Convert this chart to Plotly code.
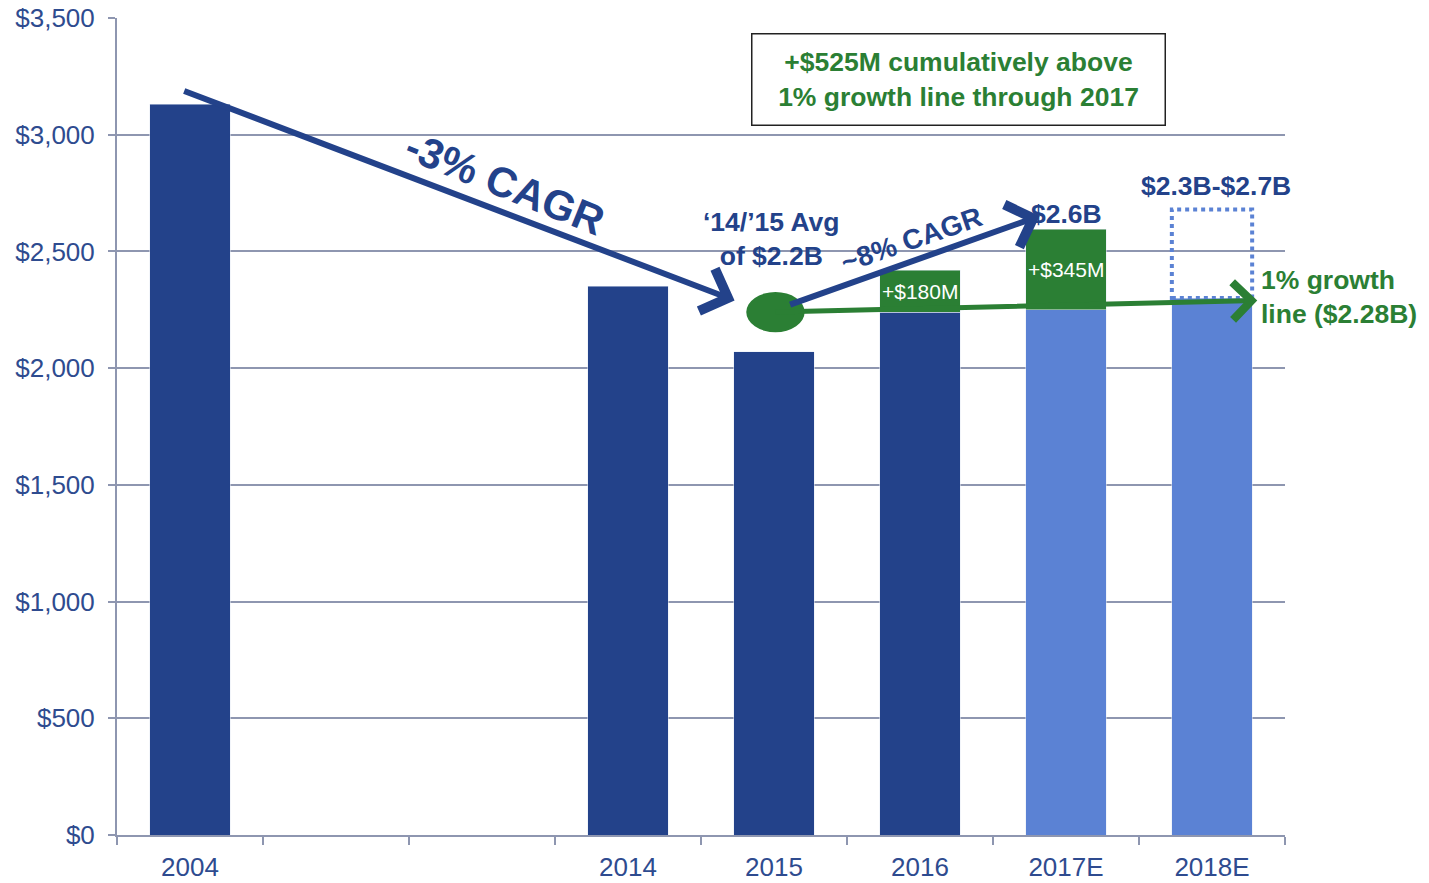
import plotly.graph_objects as go

# ---- data ----
categories = ["2004", " ", "  ", "2014", "2015", "2016", "2017E", "2018E"]
actual_base = [3130, None, None, 2350, 2070, 2240, None, None]      # dark blue
estimate_base = [None, None, None, None, None, None, 2250, 2300]     # light blue
above_growth = [None, None, None, None, None, 180, 345, None]        # green increments
above_labels = ["", "", "", "", "", "+$180M", "+$345M", ""]
range_2018 = (2300, 2680)  # $2.3B-$2.7B dotted box
avg_14_15 = 2240
y_ticks = [0, 500, 1000, 1500, 2000, 2500, 3000, 3500]
y_tick_labels = ["$0", "$500", "$1,000", "$1,500", "$2,000", "$2,500", "$3,000", "$3,500"]

DARK = "#23428A"
LIGHT = "#5B82D4"
GREEN = "#2B7F34"
GRID = "#8E96B0"
TXT = "#2E4B8F"
FONT = "Liberation Sans, Arial, sans-serif"
BAR_W = 0.55
BIG = 26.5

fig = go.Figure()
fig.add_trace(go.Bar(x=categories, y=actual_base, marker_color=DARK, width=BAR_W, hoverinfo="skip"))
fig.add_trace(go.Bar(x=categories, y=estimate_base, marker_color=LIGHT, width=BAR_W, hoverinfo="skip"))
fig.add_trace(go.Bar(x=categories, y=above_growth, marker_color=GREEN, width=BAR_W, hoverinfo="skip"))

ann = []
# labels inside green segments
for i, (b1, b2, inc, lab) in enumerate(zip(actual_base, estimate_base, above_growth, above_labels)):
    if inc:
        base = b1 if b1 else b2
        ann.append(dict(x=i, y=base + inc * 0.5, text=lab, showarrow=False,
                        font=dict(family=FONT, size=21, color="white")))

# dotted range box for 2018E
i18 = categories.index("2018E")
fig.add_shape(type="rect", xref="x", yref="y", x0=i18 - BAR_W / 2, x1=i18 + BAR_W / 2,
              y0=range_2018[0], y1=range_2018[1],
              line=dict(color=LIGHT, width=4, dash="dot"), fillcolor="rgba(0,0,0,0)", layer="above")

# green ellipse at 14/15 average
i15 = categories.index("2015")
fig.add_shape(type="circle", xref="x", yref="y", x0=i15 - 0.19, x1=i15 + 0.21,
              y0=avg_14_15 - 86, y1=avg_14_15 + 86, fillcolor=GREEN, line=dict(color=GREEN, width=0),
              layer="above")

# arrows
def arrow(x0, y0, x1, y1, color, width):
    return dict(x=x1, y=y1, ax=x0, ay=y0, xref="x", yref="y", axref="x", ayref="y",
                text="", showarrow=True, arrowhead=4, arrowsize=1.45, arrowwidth=width,
                arrowcolor=color, standoff=0, startstandoff=0)

ann.append(arrow(-0.05, 3190, 3.73, 2290, DARK, 6))
ann.append(arrow(4.1, 2270, 5.82, 2652, DARK, 6))
ann.append(arrow(4.0, avg_14_15, 7.31, 2290, GREEN, 5))

ann += [
    dict(x=2.16, y=2791, text="<b>-3% CAGR</b>", textangle=22, showarrow=False,
         font=dict(family=FONT, size=42, color=DARK)),
    dict(x=4.945, y=2550, text="<b>~8% CAGR</b>", textangle=-19, showarrow=False,
         font=dict(family=FONT, size=28, color=DARK)),
    dict(x=3.98, y=2552, text="<b>‘14/’15 Avg<br>of $2.2B</b>", showarrow=False,
         font=dict(family=FONT, size=BIG, color=DARK)),
    dict(x=6.0, y=2588, yanchor="bottom", text="<b>$2.6B</b>", showarrow=False,
         font=dict(family=FONT, size=BIG, color=DARK)),
    dict(x=7.03, y=2708, yanchor="bottom", text="<b>$2.3B-$2.7B</b>", showarrow=False,
         font=dict(family=FONT, size=BIG, color=DARK)),
    dict(x=7.32, y=2303, xanchor="left", align="left", text="<b>1% growth<br>line ($2.28B)</b>",
         showarrow=False, font=dict(family=FONT, size=BIG, color=GREEN)),
    dict(x=5.265, y=3236, text="<b>+$525M cumulatively above<br>1% growth line through 2017</b>",
         showarrow=False, width=402, height=80, borderpad=5, bordercolor="#222222", borderwidth=1.5,
         bgcolor="white", font=dict(family=FONT, size=BIG, color=GREEN)),
]

fig.update_layout(
    width=1429, height=883, barmode="stack", showlegend=False,
    plot_bgcolor="white", paper_bgcolor="white",
    margin=dict(l=117, r=144, t=18, b=48, autoexpand=False),
    bargap=0.45,
    annotations=ann,
    font=dict(family=FONT, color=TXT),
)
fig.update_xaxes(type="category", categoryorder="array", categoryarray=categories,
                 tickson="boundaries", ticks="outside", ticklen=8, tickwidth=2, tickcolor=GRID,
                 showline=True, linecolor=GRID, linewidth=2, showgrid=False, automargin=False,
                 ticklabelstandoff=8,
                 tickfont=dict(family=FONT, size=26, color=TXT), range=[-0.5, 7.5])
fig.update_yaxes(range=[0, 3500], tickvals=y_ticks, ticktext=y_tick_labels,
                 ticks="outside", ticklen=7, tickwidth=2, tickcolor=GRID,
                 showline=True, linecolor=GRID, linewidth=2, automargin=False,
                 ticklabelstandoff=8,
                 showgrid=True, gridcolor=GRID, gridwidth=2, zeroline=False,
                 tickfont=dict(family=FONT, size=26, color=TXT))

fig.write_html("out.html")
